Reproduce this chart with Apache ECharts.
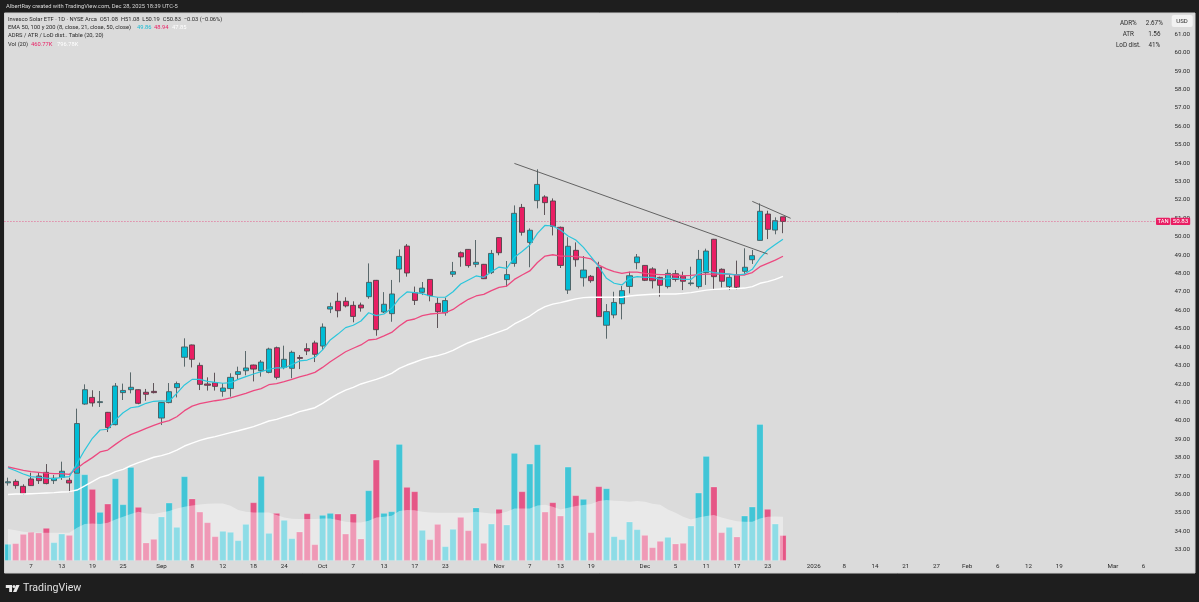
<!DOCTYPE html>
<html>
<head>
    <meta charset="utf-8">
    <title>TAN</title>
    <script src="https://cdn.jsdelivr.net/npm/echarts@6/dist/echarts.min.js"></script>
    <style>
        html,body{margin:0;padding:0;background:#1e1e1e;}
        #main{width:1199px;height:602px;}
    </style>
</head>
<body>
<div id="main"></div>
<script>
var opens=[36.63,36.71,36.44,36.84,37.00,37.20,36.75,36.93,36.77,37.15,
40.91,41.27,40.99,40.46,39.79,41.53,41.69,41.69,41.55,41.60,
40.15,40.99,41.80,43.45,44.12,43.01,42.00,42.07,41.60,41.75,
42.52,42.72,43.03,42.72,42.63,43.97,42.90,42.85,43.44,43.92,
44.23,44.06,46.07,46.49,46.49,46.27,46.29,46.74,47.63,45.91,
45.82,48.24,49.49,46.96,46.98,47.68,46.38,45.87,47.96,49.13,
49.31,48.50,48.50,48.05,49.95,47.67,48.55,51.59,49.69,51.96,
52.16,51.94,50.51,47.10,49.26,47.77,47.85,48.34,45.19,45.75,
46.36,47.30,48.59,48.44,48.25,47.79,47.29,47.99,47.85,47.45,
47.29,48.05,49.86,48.23,47.29,47.94,48.12,48.75,49.80,51.23,
50.36,51.08];
var closes=[36.69,36.48,36.04,36.48,36.75,36.59,36.88,37.26,36.62,39.85,
41.69,40.97,41.04,39.63,41.89,41.65,41.82,40.95,41.44,41.53,
40.99,41.58,42.02,44.01,43.34,41.98,41.93,41.87,41.78,42.36,
42.67,42.87,42.81,43.19,43.90,42.36,43.34,43.72,43.39,43.79,
43.61,45.09,46.20,45.98,46.24,45.67,46.13,47.52,44.95,46.33,
46.89,48.93,48.03,46.54,47.21,46.80,45.93,46.53,48.10,48.90,
48.43,48.61,47.72,49.09,49.13,47.94,51.27,50.24,50.35,52.84,
51.85,50.56,48.44,49.48,48.75,48.19,47.61,45.66,45.93,46.43,
47.07,47.88,48.90,47.63,47.61,47.36,48.01,47.68,47.58,47.49,
48.77,49.22,47.83,47.58,47.79,47.25,48.34,48.97,51.38,50.40,
50.87,50.83];
var highs=[36.91,36.82,36.55,37.18,37.18,37.65,37.06,37.78,36.91,40.66,
41.98,41.66,41.62,40.48,42.05,42.02,42.63,41.71,41.73,42.05,
41.01,42.05,42.13,44.48,44.14,43.16,42.36,42.61,42.04,42.58,
42.94,43.79,43.05,43.30,43.97,44.03,44.08,43.81,43.57,44.21,
44.35,45.29,46.42,46.96,46.71,46.49,46.42,48.55,47.65,46.99,
47.65,49.31,49.60,47.29,47.54,47.70,46.69,46.69,48.63,49.20,
49.33,49.82,48.52,49.28,49.97,48.68,51.70,51.78,50.45,53.66,
52.25,52.08,50.55,49.97,49.69,48.95,47.92,48.64,46.34,47.01,
47.32,48.10,49.06,48.46,48.34,47.83,48.23,48.19,48.10,48.37,
49.28,49.35,49.88,48.28,47.97,48.70,49.37,49.28,51.81,51.41,
51.05,51.08];
var lows=[36.48,36.31,35.97,36.46,36.57,36.55,36.57,36.79,36.12,37.15,
40.87,40.77,40.75,39.39,39.75,41.13,41.49,40.90,41.09,41.49,
39.77,40.95,41.27,42.94,42.90,41.67,41.64,41.64,41.31,41.31,
42.25,42.47,42.14,42.40,42.58,42.25,42.80,42.31,42.81,43.57,
43.19,43.85,45.85,45.62,46.16,45.35,45.93,46.63,44.62,45.85,
45.38,47.52,47.83,46.29,46.83,46.49,45.04,45.71,47.81,48.37,
48.32,48.34,47.70,47.97,48.99,47.29,48.37,50.06,48.34,51.54,
51.18,50.07,48.30,46.89,48.37,47.29,47.50,45.64,44.46,45.57,
45.51,46.92,48.23,47.59,47.19,46.74,47.19,47.56,47.10,47.34,
47.19,47.38,47.14,47.25,47.10,47.14,47.97,48.52,49.78,49.87,
50.13,50.19];
var ema8=[37.45,37.29,37.11,36.97,36.93,36.89,36.86,36.93,36.97,37.69,
38.41,39.05,39.50,39.54,40.04,40.44,40.71,40.77,40.95,41.06,
41.08,41.06,41.49,41.95,42.25,42.25,42.14,42.09,42.04,42.07,
42.25,42.40,42.54,42.67,42.80,42.87,42.87,43.05,43.25,43.30,
43.45,43.85,44.39,44.71,45.06,45.19,45.42,45.87,45.71,45.80,
46.11,46.65,47.00,46.96,46.91,46.78,46.71,46.71,47.01,47.43,
47.65,47.87,47.79,48.10,48.35,48.28,48.88,49.20,49.55,50.18,
50.62,50.58,50.36,50.04,49.82,49.42,48.91,48.37,47.74,47.47,
47.38,47.74,47.83,47.79,47.79,47.68,47.74,47.74,47.68,47.68,
48.01,48.15,48.05,48.01,47.97,47.92,47.97,48.23,48.83,49.28,
49.58,49.86];
var ema21=[37.49,37.40,37.31,37.24,37.20,37.16,37.13,37.13,37.09,37.42,
37.73,38.00,38.31,38.41,38.72,39.01,39.25,39.41,39.59,39.75,
39.90,40.01,40.22,40.55,40.80,40.93,41.02,41.09,41.15,41.24,
41.37,41.49,41.64,41.75,41.96,42.02,42.13,42.25,42.38,42.50,
42.63,42.90,43.21,43.48,43.75,43.94,44.12,44.39,44.44,44.61,
44.80,45.15,45.44,45.53,45.71,45.80,45.84,45.87,46.05,46.34,
46.60,46.78,46.87,47.07,47.25,47.32,47.68,47.92,48.14,48.60,
48.95,49.02,48.95,48.95,48.92,48.88,48.79,48.46,48.25,48.10,
48.01,48.08,48.08,48.01,47.97,47.94,47.94,47.92,47.88,47.90,
47.94,47.97,47.97,47.97,47.97,47.92,47.92,48.05,48.37,48.55,
48.73,48.94];
var ema50=[36.00,36.02,36.02,36.04,36.06,36.08,36.10,36.13,36.15,36.24,
36.46,36.70,36.93,37.04,37.24,37.36,37.56,37.73,37.87,38.02,
38.11,38.23,38.41,38.63,38.79,38.94,39.05,39.14,39.25,39.36,
39.46,39.57,39.68,39.83,39.99,40.08,40.21,40.33,40.50,40.60,
40.71,40.95,41.22,41.46,41.67,41.82,42.00,42.13,42.25,42.40,
42.58,42.85,43.03,43.18,43.34,43.45,43.54,43.66,43.83,44.04,
44.24,44.39,44.53,44.68,44.83,44.98,45.26,45.47,45.69,45.98,
46.20,46.34,46.42,46.52,46.62,46.69,46.71,46.71,46.71,46.71,
46.71,46.78,46.82,46.85,46.87,46.89,46.89,46.89,46.92,46.96,
47.03,47.10,47.14,47.16,47.18,47.19,47.21,47.29,47.47,47.56,
47.68,47.85];
// volume in thousands
var volumes=[302,314,482,519,507,591,332,488,464,1580,
1562,1296,880,1031,1489,1019,1694,971,326,392,
796,1049,609,1526,1122,886,693,440,537,519,
368,663,1055,1532,500,862,736,404,525,856,
295,826,862,850,488,850,398,1272,1827,862,
892,2110,1333,1254,555,386,663,259,573,790,
549,959,320,669,935,651,1948,1254,1755,2105,
886,1055,814,1700,1182,1116,513,1345,1308,440,
386,706,567,464,241,356,428,308,320,633,
1230,1893,1339,513,609,434,814,977,2472,935,
669,460.77];
var volMA=[573,549,525,513,507,507,507,507,507,597,
663,675,663,687,748,796,844,886,856,844,
874,898,947,977,1001,1019,1031,1037,1037,995,
917,886,874,874,874,826,784,760,754,754,
754,766,766,736,706,693,693,724,784,796,
814,898,917,911,886,874,868,868,868,868,
868,886,868,856,856,886,947,947,947,1001,
1013,977,929,959,989,1007,1025,1079,1097,1085,
1079,1067,1079,1067,1031,1013,929,868,796,748,
784,808,826,784,748,712,706,706,766,796,
802,796.78];
var tickIndex=[3,7,11,15,20,24,28,32,36,41,45,49,53,57,64,68,72,76,83,87,91,95,99,105,109,113,117,121,125,129,133,137,144,148];
var tickText=['7','13','19','25','Sep','8','12','18','24','Oct','7','13','17','23','Nov','7','13','19','Dec','5','11','17','23','2026','8','14','21','27','Feb','6','12','19','Mar','6'];
var trendLong=[[66,53.98],[99,49.06]];
var trendShort=[[97,51.92],[102,51.00]];
var lastClose=50.83;

var SLOTS=152, UP='#00bcd4', DOWN='#e91e63', FONT='Roboto, sans-serif', INK='#2a2a2a';

var categories=[];
for(var i=0;i<SLOTS;i++) categories.push('');
tickIndex.forEach(function(idx,k){categories[idx]=tickText[k];});

var candles=opens.map(function(o,k){return [o,closes[k],lows[k],highs[k]];});
var volBars=volumes.map(function(v,k){
    return {value:v,itemStyle:{color:closes[k]>=opens[k]?'rgba(0,188,212,0.7)':'rgba(233,30,99,0.7)'}};
});

function label(x,y,text,color,opts){
    opts=opts||{};
    return {type:'text',x:x,y:y,z:50,silent:true,style:{
        text:text,fill:color||INK,font:(opts.weight||'normal')+' '+(opts.size||5.75)+'px '+FONT,
        align:opts.align||'left',verticalAlign:'middle'
    }};
}
function emaLine(data,color,width){
    return {type:'line',data:data,xAxisIndex:0,yAxisIndex:0,symbol:'none',z:5,silent:true,
        lineStyle:{color:color,width:width||1.2}};
}
function trendLine(data){
    return {type:'line',data:data,xAxisIndex:0,yAxisIndex:0,symbol:'none',z:6,silent:true,
        lineStyle:{color:'#555',width:0.9}};
}

var chart=echarts.init(document.getElementById('main'),null,{renderer:'canvas'});
var GRID_LEFT=4.16, GRID_W=1166.3;
chart.setOption({
    animation:false,
    backgroundColor:'#1e1e1e',
    grid:[
        {left:GRID_LEFT,width:GRID_W,top:15.78,height:552.3},
        {left:GRID_LEFT,width:GRID_W,top:400,height:160.7}
    ],
    xAxis:[
        {type:'category',gridIndex:0,data:categories,boundaryGap:true,show:false},
        {type:'category',gridIndex:1,data:categories,boundaryGap:true,
            axisLine:{show:false},axisTick:{show:false},
            axisLabel:{interval:0,color:INK,fontSize:6.2,fontFamily:FONT,margin:3,hideOverlap:false}}
    ],
    yAxis:[
        {type:'value',gridIndex:0,position:'right',min:32,max:62,interval:1,
            axisLine:{show:false},axisTick:{show:false},splitLine:{show:false},
            axisLabel:{color:INK,fontSize:6.2,fontFamily:FONT,margin:4,
                formatter:function(v){return (v==32||v==62)?'':v.toFixed(2);}}},
        {type:'value',gridIndex:1,min:0,max:2909,show:false,splitLine:{show:false}}
    ],
    series:[
        {type:'bar',data:volBars,xAxisIndex:1,yAxisIndex:1,barWidth:6.8,z:1,silent:true,
            itemStyle:{borderColor:'rgba(255,255,255,0.3)',borderWidth:0.6}},
        {type:'line',data:volMA,xAxisIndex:1,yAxisIndex:1,symbol:'none',z:2,silent:true,
            lineStyle:{width:0},areaStyle:{color:'rgba(255,255,255,0.4)',opacity:1}},
        {type:'candlestick',data:candles,xAxisIndex:0,yAxisIndex:0,barWidth:5.6,z:4,silent:true,
            itemStyle:{color:UP,color0:DOWN,borderColor:'#4b5a5e',borderColor0:'#4f4449',borderWidth:0.9},
            markLine:{silent:true,symbol:'none',animation:false,label:{show:false},
                lineStyle:{color:'rgba(233,30,99,0.55)',type:[1.5,1.5],width:0.8},
                data:[{yAxis:lastClose}]}},
        emaLine(ema50,'#ffffff',1.4),
        emaLine(ema21,'#ec4a80',1.3),
        emaLine(ema8,'#2cc6dc',1.2),
        trendLine(trendLong),
        trendLine(trendShort)
    ]
});

var tagY=chart.convertToPixel({yAxisIndex:0},lastClose);
var graphics=[
    {type:'rect',z:-10,silent:true,shape:{x:4.5,y:13,width:1190.5,height:560},
        style:{fill:'#dbdbdb',stroke:'#cfcfcf',lineWidth:1}},
    label(6,6.5,'AlbertRay created with TradingView.com, Dec 28, 2025 18:39 UTC-5','#d8d8d8'),
    label(8,19.7,'Invesco Solar ETF · 1D · NYSE Arca  O51.08  H51.08  L50.19  C50.83  −0.03 (−0.06%)'),
    label(8,28,'EMA 50, 100 y 200 (8, close, 21, close, 50, close)'),
    label(137,28,'49.86','#18bcd4'),
    label(154,28,'48.94','#e91e63'),
    label(172,28,'47.85','#ffffff'),
    label(8,36,'ADRS / ATR / LoD dist.. Table (20, 20)'),
    label(8,44.3,'Vol (20)'),
    label(31,44.3,'460.77K','#e91e63'),
    label(57,44.3,'796.78K','#ffffff'),
    label(1128.3,23,'ADR%',INK,{align:'center',size:6.3}),
    label(1154.3,23,'2.67%',INK,{align:'center',size:6.3}),
    label(1128.3,34.3,'ATR',INK,{align:'center',size:6.3}),
    label(1154.3,34.3,'1.56',INK,{align:'center',size:6.3}),
    label(1128.3,45.5,'LoD dist.',INK,{align:'center',size:6.3}),
    label(1154.3,45.5,'41%',INK,{align:'center',size:6.3}),
    {type:'rect',z:40,silent:true,shape:{x:1171.7,y:15,width:21,height:12,r:2},style:{fill:'#f2f2f2'}},
    label(1182,21.2,'USD',INK,{align:'center',size:6}),
    {type:'rect',z:40,silent:true,shape:{x:1156,y:tagY-3.7,width:14,height:7.4,r:1},style:{fill:DOWN}},
    {type:'rect',z:40,silent:true,shape:{x:1170.7,y:tagY-3.7,width:19.5,height:7.4,r:1},style:{fill:DOWN}},
    label(1163,tagY+0.2,'TAN','#ffffff',{align:'center',size:5.8}),
    label(1180.5,tagY+0.2,'50.83','#ffffff',{align:'center',size:6.2}),
    // TradingView mark
    {type:'polygon',z:40,silent:true,shape:{points:[[5.8,585],[12,585],[12,592],[9.2,592],[9.2,587.9],[5.8,587.9]]},style:{fill:'#e8e8e8'}},
    {type:'circle',z:40,silent:true,shape:{cx:14,cy:586.5,r:1.5},style:{fill:'#e8e8e8'}},
    {type:'polygon',z:40,silent:true,shape:{points:[[16.2,585],[19.6,585],[16.4,592],[13,592]]},style:{fill:'#e8e8e8'}},
    label(23,588.5,'TradingView','#e0e0e0',{size:10.6})
];
chart.setOption({graphic:graphics});
</script>
</body>
</html>
